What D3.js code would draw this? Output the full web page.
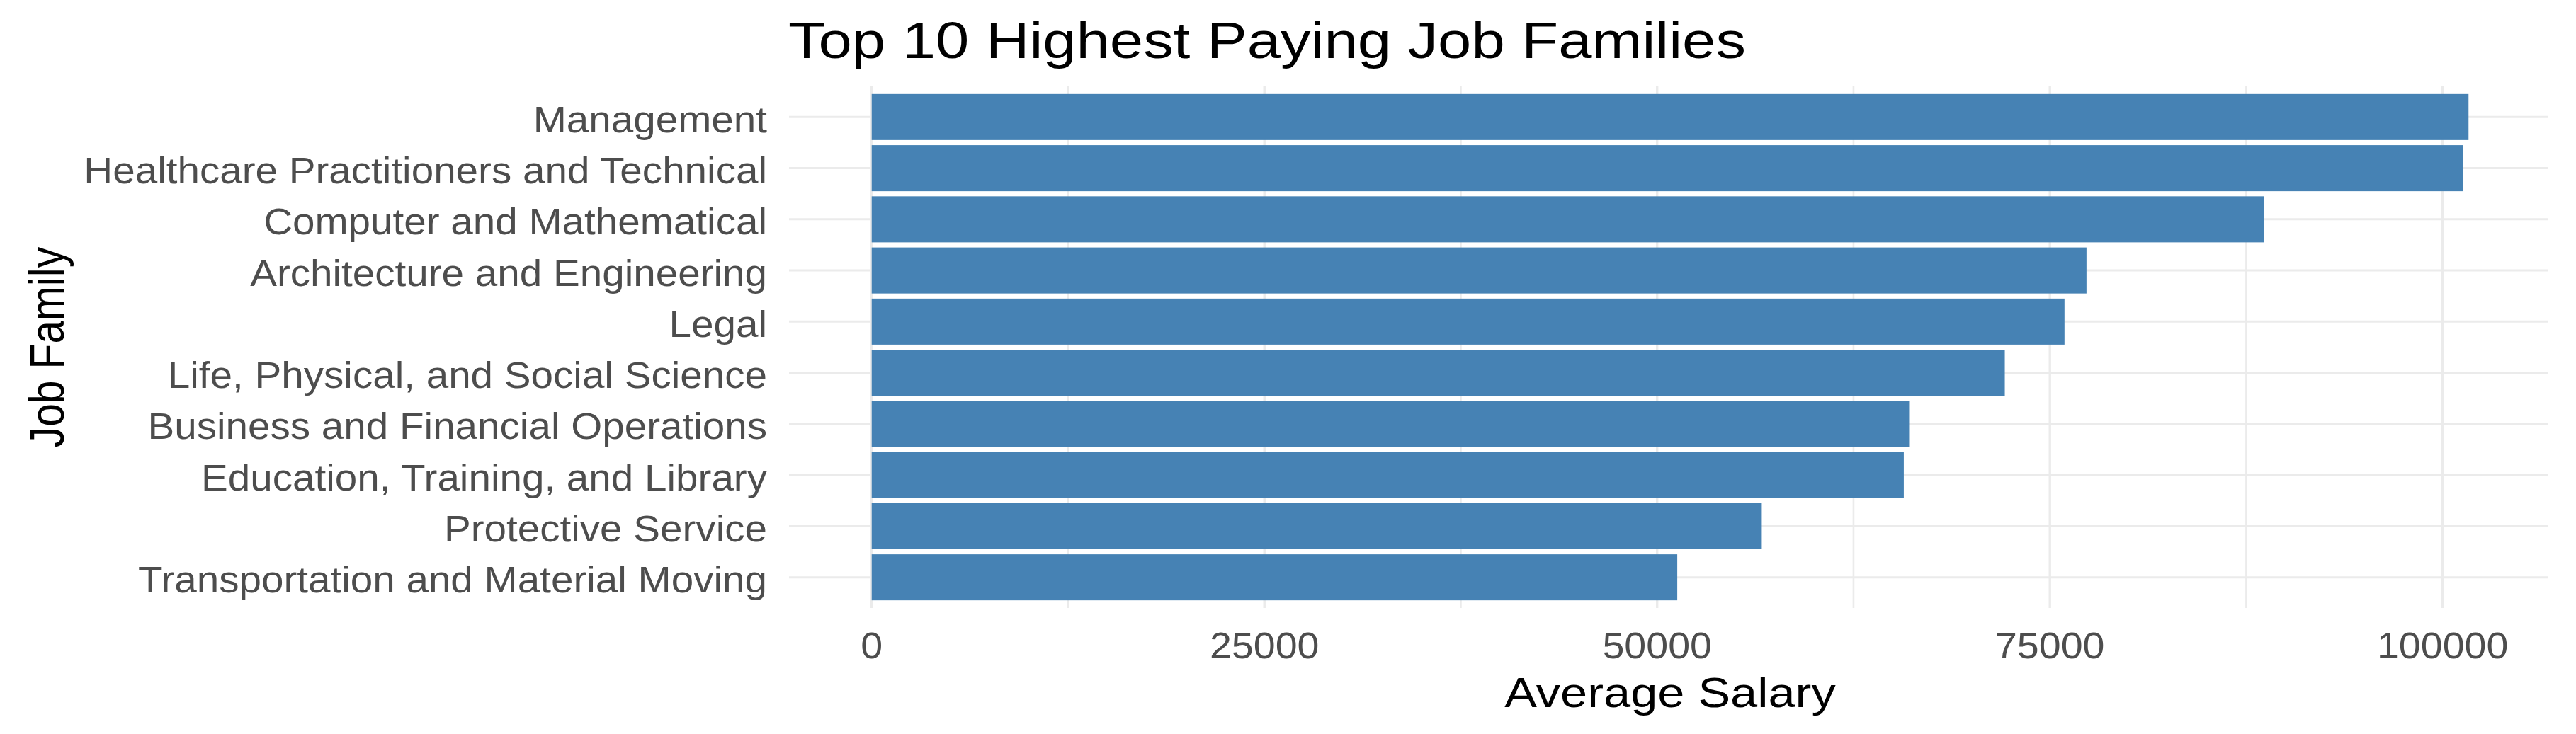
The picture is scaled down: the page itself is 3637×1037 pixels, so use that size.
<!DOCTYPE html>
<html>
<head>
<meta charset="utf-8">
<script src="https://cdn.jsdelivr.net/npm/d3@7"></script>
<style>
  html, body { margin: 0; padding: 0; background: #ffffff; }
  svg { display: block; }
  text { font-family: "Liberation Sans", Arial, sans-serif; }
</style>
</head>
<body>
<svg id="chart" width="3637" height="1037"></svg>
<script>
// ---- data ----
const categories = [
  "Management",
  "Healthcare Practitioners and Technical",
  "Computer and Mathematical",
  "Architecture and Engineering",
  "Legal",
  "Life, Physical, and Social Science",
  "Business and Financial Operations",
  "Education, Training, and Library",
  "Protective Service",
  "Transportation and Material Moving"
];
const salaries = [101650, 101280, 88610, 77330, 75930, 72130, 66040, 65700, 56660, 51280];
const majorTicks = [0, 25000, 50000, 75000, 100000];
const minorTicks = [12500, 37500, 62500, 87500];
const titleText = "Top 10 Highest Paying Job Families";
const xTitle = "Average Salary";
const yTitle = "Job Family";

// ---- layout ----
const W = 3637, H = 1037;
const panel = { left: 1118, right: 3598, top: 122, bottom: 859 };

const svg = d3.select("#chart");
svg.append("rect").attr("width", W).attr("height", H).attr("fill", "#ffffff");

const maxV = d3.max(salaries);
const pad = 0.05 * maxV;
const x = d3.scaleLinear().domain([-pad, maxV + pad]).range([panel.left, panel.right]);
const y = d3.scaleBand().domain(categories).range([panel.top, panel.bottom])
  .paddingInner(0.1).paddingOuter(0.15);
const yc = d => y(d) + y.bandwidth() / 2;

const data = categories.map((c, i) => ({ cat: c, val: salaries[i] }));

// grid
const grid = svg.append("g");
grid.selectAll(".minor").data(minorTicks).enter().append("line")
  .attr("x1", d => x(d)).attr("x2", d => x(d))
  .attr("y1", panel.top).attr("y2", panel.bottom)
  .attr("stroke", "#ebebeb").attr("stroke-width", 2.6);
grid.selectAll(".major").data(majorTicks).enter().append("line")
  .attr("x1", d => x(d)).attr("x2", d => x(d))
  .attr("y1", panel.top).attr("y2", panel.bottom)
  .attr("stroke", "#ebebeb").attr("stroke-width", 3.4);
grid.selectAll(".hline").data(categories).enter().append("line")
  .attr("x1", panel.left - 4).attr("x2", panel.right)
  .attr("y1", d => yc(d)).attr("y2", d => yc(d))
  .attr("stroke", "#ebebeb").attr("stroke-width", 3);

// bars
svg.append("g").selectAll("rect").data(data).enter().append("rect")
  .attr("x", x(0))
  .attr("y", d => y(d.cat))
  .attr("width", d => x(d.val) - x(0))
  .attr("height", y.bandwidth())
  .attr("fill", "#4682b4");

// y tick labels
svg.append("g").selectAll("text").data(categories).enter().append("text")
  .attr("transform", d => `translate(1083,${yc(d) + 21.5}) scale(1.11,1)`)
  .attr("text-anchor", "end")
  .attr("font-size", 51)
  .attr("fill", "#4d4d4d")
  .text(d => d);

// x tick labels
svg.append("g").selectAll("text").data(majorTicks).enter().append("text")
  .attr("transform", d => `translate(${x(d)},930) scale(1.09,1)`)
  .attr("text-anchor", "middle")
  .attr("font-size", 51)
  .attr("fill", "#4d4d4d")
  .text(d => d3.format("d")(d));

// axis titles
svg.append("text")
  .attr("transform", `translate(${(panel.left + panel.right) / 2},999) scale(1.15,1)`)
  .attr("text-anchor", "middle")
  .attr("font-size", 59.6)
  .attr("fill", "#000000")
  .text(xTitle);

svg.append("text")
  .attr("transform", `translate(90,${(panel.top + panel.bottom) / 2}) rotate(-90) scale(1,1.17)`)
  .attr("text-anchor", "middle")
  .attr("font-size", 58.6)
  .attr("fill", "#000000")
  .text(yTitle);

// title
svg.append("text")
  .attr("transform", `translate(1113,81.7) scale(1.165,1)`)
  .attr("font-size", 73)
  .attr("fill", "#000000")
  .text(titleText);
</script>
</body>
</html>
